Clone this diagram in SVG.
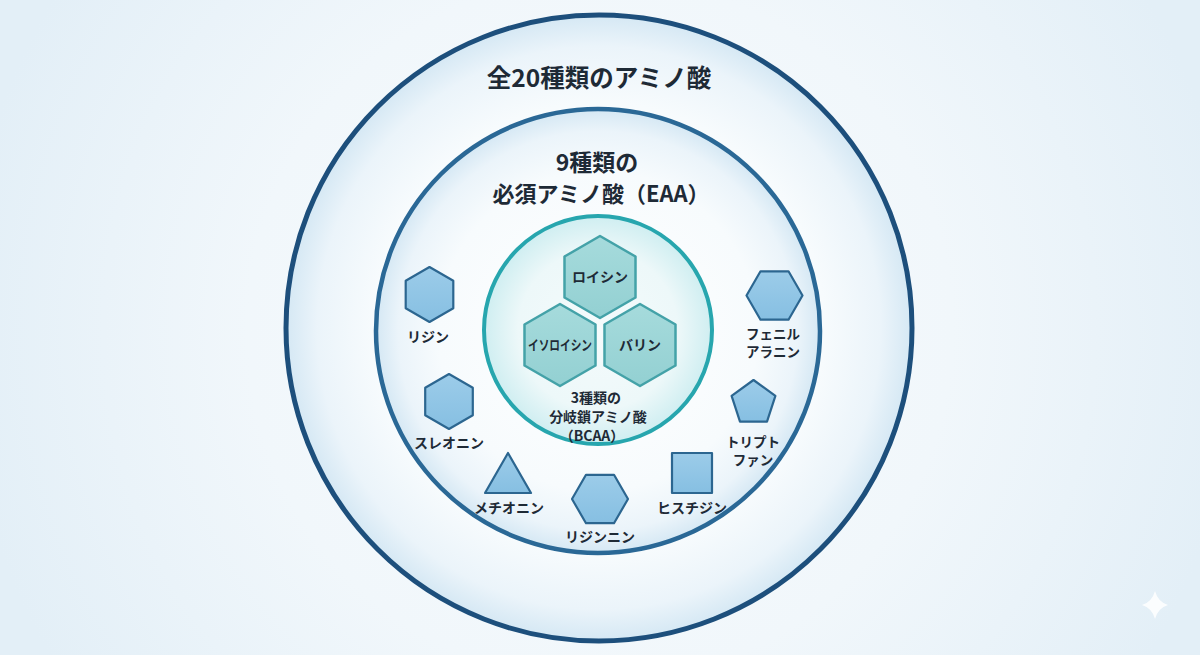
<svg xmlns="http://www.w3.org/2000/svg" xmlns:xlink="http://www.w3.org/1999/xlink" width="1200" height="655" viewBox="0 0 1200 655">
  <defs>
    <radialGradient id="bg" cx="600" cy="330" r="640" gradientUnits="userSpaceOnUse">
      <stop offset="0" stop-color="#f8fbfd"/>
      <stop offset="0.55" stop-color="#f1f7fb"/>
      <stop offset="1" stop-color="#e3eff7"/>
    </radialGradient>
    <radialGradient id="ringFill" cx="0.5" cy="0.5" r="0.5">
      <stop offset="0" stop-color="#ffffff"/>
      <stop offset="0.72" stop-color="#f7fbfd"/>
      <stop offset="0.9" stop-color="#ebf4fa"/>
      <stop offset="1" stop-color="#d5e8f4"/>
    </radialGradient>
    <radialGradient id="bcaaFill" cx="0.5" cy="0.5" r="0.5">
      <stop offset="0" stop-color="#f5fbfc"/>
      <stop offset="0.7" stop-color="#edf8f9"/>
      <stop offset="1" stop-color="#cfeef1"/>
    </radialGradient>
    <linearGradient id="shapeFill" x1="0" y1="0" x2="0" y2="1">
      <stop offset="0" stop-color="#9ccce9"/>
      <stop offset="1" stop-color="#86bfe2"/>
    </linearGradient>
    <linearGradient id="tealFill" x1="0" y1="0" x2="0" y2="1">
      <stop offset="0" stop-color="#a6dbdc"/>
      <stop offset="1" stop-color="#93d0d2"/>
    </linearGradient>
    <polygon id="hexBig" points="0,-41 35.5,-20.5 35.5,20.5 0,41 -35.5,20.5 -35.5,-20.5"/>
    <polygon id="hexPt" points="0,-27.5 23.8,-13.75 23.8,13.75 0,27.5 -23.8,13.75 -23.8,-13.75"/>
    <polygon id="hexFlat" points="28,0 14,24.2 -14,24.2 -28,0 -14,-24.2 14,-24.2"/>
    <style>
      text { font-family: "Noto Sans CJK JP", "Noto Sans", sans-serif; font-weight: 700; fill: #1e2a36; text-anchor: middle; }
      .title { font-size: 24.5px; }
      .sub { font-size: 22px; }
      .lbl { font-size: 14px; }
      .lbl2 { font-size: 13.5px; }
      .bl { font-size: 14px; }
      .shape { fill: url(#shapeFill); stroke: #2c6690; stroke-width: 2.2; stroke-linejoin: round; }
      .teal { fill: url(#tealFill); stroke: #44a2a8; stroke-width: 2.5; stroke-linejoin: round; }
    </style>
  </defs>

  <rect width="1200" height="655" fill="url(#bg)"/>

  <g id="ring-all">
    <circle cx="599" cy="328" r="313" fill="url(#ringFill)" stroke="#1d4f7c" stroke-width="5"/>
    <text class="title" x="599" y="87">全20種類のアミノ酸</text>
  </g>

  <g id="ring-eaa">
    <circle cx="598" cy="331" r="222" fill="url(#ringFill)" stroke="#2a6896" stroke-width="4.5"/>
    <text class="sub" x="597" y="171" style="font-size:23px">9種類の</text>
    <text class="sub" x="601" y="202">必須アミノ酸（EAA）</text>
  </g>

  <g id="ring-bcaa">
    <circle cx="598" cy="330" r="114" fill="url(#bcaaFill)" stroke="#27a6ae" stroke-width="4"/>
    <text class="bl" x="596" y="403">3種類の</text>
    <text class="bl" x="598" y="422">分岐鎖アミノ酸</text>
    <text class="bl" x="592" y="441">（BCAA）</text>
  </g>

  <g id="leucine">
    <use xlink:href="#hexBig" href="#hexBig" x="600" y="277" class="teal"/>
    <text class="lbl" x="600" y="282">ロイシン</text>
  </g>
  <g id="isoleucine">
    <use xlink:href="#hexBig" href="#hexBig" x="560" y="345" class="teal"/>
    <text class="lbl" x="560" y="350" textLength="64" lengthAdjust="spacingAndGlyphs">イソロイシン</text>
  </g>
  <g id="valine">
    <use xlink:href="#hexBig" href="#hexBig" x="640" y="345" class="teal"/>
    <text class="lbl" x="640" y="350">バリン</text>
  </g>

  <g id="lysine">
    <use xlink:href="#hexPt" href="#hexPt" x="429.5" y="294.5" class="shape"/>
    <text class="lbl" x="428" y="342">リジン</text>
  </g>
  <g id="threonine">
    <use xlink:href="#hexPt" href="#hexPt" x="449" y="401.5" class="shape"/>
    <text class="lbl" x="449" y="448">スレオニン</text>
  </g>
  <g id="methionine">
    <polygon class="shape" points="508,453 531,493 485,493"/>
    <text class="lbl" x="509" y="513">メチオニン</text>
  </g>
  <g id="lysinine">
    <use xlink:href="#hexFlat" href="#hexFlat" x="600" y="499" class="shape"/>
    <text class="lbl" x="600" y="542">リジンニン</text>
  </g>
  <g id="histidine">
    <rect class="shape" x="672" y="453" width="40" height="40"/>
    <text class="lbl" x="692" y="513">ヒスチジン</text>
  </g>
  <g id="tryptophan">
    <polygon class="shape" points="753.5,380 775.4,395.9 767,421.6 740,421.6 731.6,395.9"/>
    <text class="lbl2" x="753" y="447">トリプト</text>
    <text class="lbl2" x="753" y="465">ファン</text>
  </g>
  <g id="phenylalanine">
    <use xlink:href="#hexFlat" href="#hexFlat" x="774.5" y="295.5" class="shape"/>
    <text class="lbl2" x="773" y="339">フェニル</text>
    <text class="lbl2" x="773" y="357">アラニン</text>
  </g>

  <g id="connectors"></g>

  <path d="M1155,591 Q1158,602 1168,605 Q1158,608 1155,619 Q1152,608 1142,605 Q1152,602 1155,591 Z" fill="#ffffff" opacity="0.85"/>
</svg>
